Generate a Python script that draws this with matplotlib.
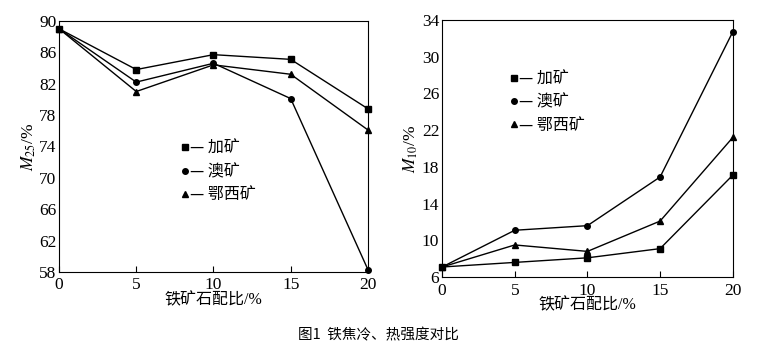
import matplotlib.pyplot as plt
from matplotlib.lines import Line2D

plt.rcParams['font.family'] = ['Liberation Serif', 'Noto Sans CJK SC']
plt.rcParams['mathtext.fontset'] = 'stix'

ratio = [0, 5, 10, 15, 20]
names = ["加矿", "澳矿", "鄂西矿"]
markers = ['s', 'o', '^']

# M25 (cold strength)
m25_jia = [89.0, 83.8, 85.7, 85.1, 78.8]
m25_ao = [89.0, 82.2, 84.6, 80.1, 58.3]
m25_exi = [89.0, 81.0, 84.4, 83.2, 76.1]

# M10
m10_jia = [7.1, 7.6, 8.1, 9.1, 17.1]
m10_ao = [7.1, 11.1, 11.6, 16.9, 32.7]
m10_exi = [7.1, 9.5, 8.8, 12.1, 21.2]

fig = plt.figure(figsize=(7.57, 3.49), dpi=100)
ax1 = fig.add_axes([0.078, 0.221, 0.408, 0.719])
ax2 = fig.add_axes([0.584, 0.206, 0.384, 0.737])


def draw(ax, series, ylim, yticks, ylabel, legend_pos):
    for ys, mk in zip(series, markers):
        ax.plot(ratio, ys, color='black', lw=1.0, marker=mk, ms=4, clip_on=False, zorder=3)
    ax.set_xlim(0, 20)
    ax.set_ylim(*ylim)
    ax.set_xticks(ratio)
    ax.set_yticks(yticks)
    ax.tick_params(direction='in', length=4, width=0.8, labelsize=12.5)
    ax.tick_params(axis='x', pad=4)
    ax.tick_params(axis='y', length=0, pad=2)
    for s in ax.spines.values():
        s.set_linewidth(0.8)
    ax.set_xlabel("铁矿石配比/%", fontsize=11.5, labelpad=-1)
    ax.set_ylabel(ylabel, fontsize=12.5, labelpad=1)
    handles = [Line2D([], [], color='black', marker=mk, ls='none', ms=4) for mk in markers]
    labels = ["— " + n for n in names]
    ax.legend(handles, labels, loc='upper left', bbox_to_anchor=legend_pos, frameon=False,
              handlelength=0.6, handletextpad=0.05, labelspacing=0.4,
              prop={'family': ['Noto Sans CJK SC'], 'size': 11.5})


draw(ax1, [m25_jia, m25_ao, m25_exi], (58, 90), range(58, 91, 4),
     r'$M_{25}$/%', (0.345, 0.584))
draw(ax2, [m10_jia, m10_ao, m10_exi], (6, 34), range(6, 35, 4),
     r'$M_{10}$/%', (0.18, 0.86))

fig.text(0.5, 0.04, "图1  铁焦冷、热强度对比", ha='center', va='center',
         fontsize=10.5, family=['Noto Sans CJK SC'])

fig.savefig('out.png', dpi=100)
